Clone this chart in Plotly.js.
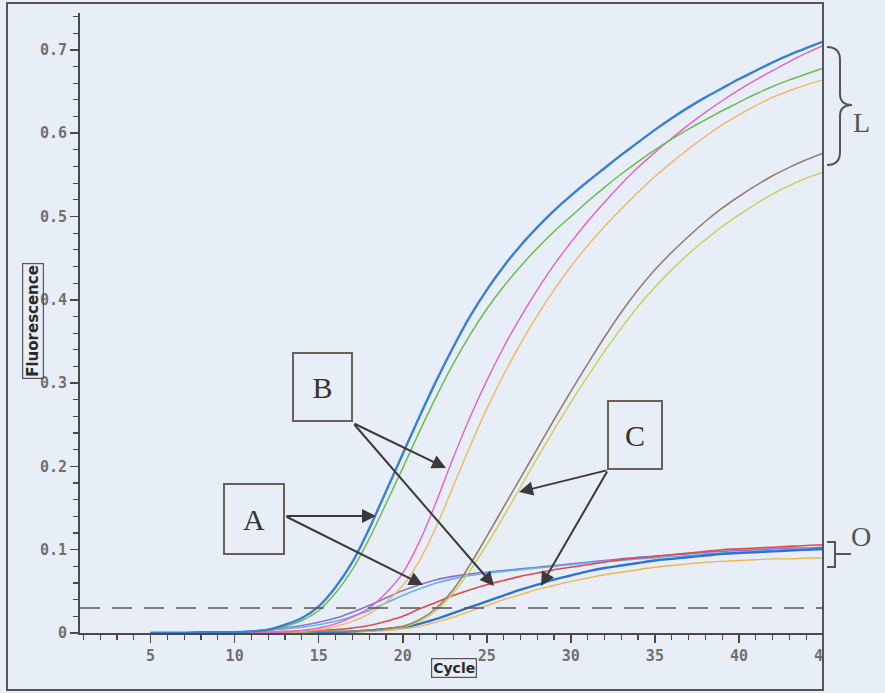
<!DOCTYPE html>
<html><head><meta charset="utf-8">
<script src="https://cdn.plot.ly/plotly-3.0.1.min.js"></script>
<style>html,body{margin:0;padding:0;background:#e8eef8;}#chart{width:885px;height:693px;}</style>
</head><body><div id="chart"></div>
<script>
// ---- data (cycle 5..45) ----
const cycles = [5,6,7,8,9,10,11,12,13,14,15,16,17,18,19,20,21,22,23,24,25,26,27,28,29,30,31,32,33,34,35,36,37,38,39,40,41,42,43,44,45];
const blueL   = [0,0,0,0.001,0.001,0.001,0.002,0.004,0.010,0.018,0.032,0.055,0.085,0.125,0.170,0.215,0.260,0.303,0.343,0.380,0.412,0.440,0.465,0.487,0.507,0.525,0.542,0.558,0.574,0.589,0.604,0.618,0.631,0.643,0.654,0.665,0.675,0.685,0.694,0.702,0.710];
const greenL  = [0,0,0,0.001,0.001,0.001,0.002,0.003,0.008,0.015,0.027,0.048,0.076,0.113,0.155,0.198,0.242,0.284,0.323,0.358,0.389,0.416,0.440,0.462,0.482,0.500,0.518,0.535,0.551,0.566,0.580,0.593,0.605,0.616,0.627,0.637,0.647,0.656,0.664,0.671,0.678];
const pinkL   = [0,0,0,0,0.001,0.001,0.001,0.001,0.001,0.003,0.006,0.011,0.019,0.030,0.048,0.072,0.110,0.158,0.210,0.259,0.303,0.343,0.379,0.412,0.442,0.469,0.494,0.517,0.539,0.559,0.577,0.594,0.610,0.625,0.639,0.652,0.664,0.675,0.686,0.696,0.705];
const orangeL = [0,0,0,0,0.001,0.001,0.001,0.001,0.001,0.002,0.004,0.008,0.014,0.023,0.037,0.057,0.087,0.128,0.176,0.224,0.269,0.310,0.347,0.381,0.412,0.440,0.465,0.488,0.509,0.529,0.548,0.565,0.581,0.596,0.610,0.622,0.633,0.643,0.651,0.658,0.664];
const brownL  = [0,0,0,0,0.001,0.001,0.001,0.001,0.001,0.002,0.002,0.002,0.002,0.003,0.005,0.008,0.016,0.030,0.052,0.082,0.116,0.151,0.186,0.221,0.256,0.290,0.323,0.355,0.385,0.412,0.436,0.457,0.476,0.494,0.510,0.524,0.537,0.549,0.559,0.568,0.576];
const yellowL = [0,0,0,0,0.001,0.001,0.001,0.001,0.001,0.001,0.002,0.002,0.002,0.002,0.004,0.007,0.014,0.027,0.048,0.075,0.106,0.140,0.175,0.210,0.244,0.277,0.308,0.338,0.366,0.392,0.415,0.436,0.455,0.472,0.488,0.502,0.515,0.527,0.537,0.546,0.553];
const purpleO = [0,0,0,0.001,0.001,0.001,0.002,0.004,0.006,0.009,0.013,0.018,0.025,0.033,0.042,0.051,0.058,0.064,0.068,0.071,0.073,0.075,0.077,0.079,0.081,0.083,0.085,0.087,0.089,0.091,0.092,0.094,0.095,0.097,0.098,0.099,0.100,0.101,0.102,0.102,0.103];
const cyanO   = [0,0,0,0.001,0.001,0.001,0.002,0.003,0.005,0.007,0.010,0.014,0.020,0.027,0.036,0.045,0.053,0.060,0.065,0.069,0.072,0.074,0.076,0.078,0.080,0.082,0.084,0.086,0.087,0.089,0.090,0.092,0.093,0.095,0.096,0.097,0.098,0.099,0.100,0.100,0.100];
const redO    = [0,0,0,0,0.001,0.001,0.001,0.001,0.002,0.002,0.003,0.004,0.006,0.009,0.014,0.020,0.029,0.037,0.045,0.052,0.058,0.063,0.068,0.072,0.076,0.079,0.082,0.085,0.088,0.090,0.092,0.094,0.096,0.098,0.100,0.101,0.102,0.103,0.104,0.105,0.106];
const blueO   = [0,0,0,0,0.001,0.001,0.001,0.001,0.001,0.001,0.001,0.001,0.002,0.003,0.005,0.007,0.011,0.017,0.024,0.031,0.038,0.045,0.052,0.058,0.064,0.069,0.074,0.078,0.081,0.084,0.087,0.089,0.091,0.093,0.095,0.096,0.097,0.098,0.099,0.100,0.101];
const orangeO = [0,0,0,0,0,0.001,0.001,0.001,0.001,0.001,0.001,0.001,0.001,0.002,0.003,0.005,0.008,0.013,0.019,0.026,0.033,0.040,0.046,0.052,0.057,0.062,0.066,0.070,0.073,0.076,0.079,0.081,0.083,0.085,0.086,0.087,0.088,0.089,0.089,0.090,0.090];
const threshold = 0.03;
const yTickVals = [0,0.1,0.2,0.3,0.4,0.5,0.6,0.7];
const yTickText = ['0','0.1','0.2','0.3','0.4','0.5','0.6','0.7'];
const xTickVals = [5,10,15,20,25,30,35,40,45];
const xTickText = ['5','10','15','20','25','30','35','40','45'];

// ---- layout geometry (pixels) ----
const W=885, H=693, PL=80, PR=823, PT=13, PB=633;
const XR=[0.8,45], YR=[0,0.7443];
const fx = p => (p-PL)/(PR-PL);
const fy = p => (PB-p)/(PB-PT);
const dx = p => XR[0] + (p-PL)/(PR-PL)*(XR[1]-XR[0]);
const dy = p => YR[0] + (PB-p)/(PB-PT)*(YR[1]-YR[0]);
function pathPx(cmds){
  return cmds.map(c=>{const l=c[0];const n=c.slice(1);const o=[];for(let i=0;i<n.length;i+=2){o.push(fx(n[i]).toFixed(5)+','+fy(n[i+1]).toFixed(5));}return l+o.join(' ');}).join(' ');
}

const series = [
  {y:purpleO,c:'#8f70d2',w:1.6},
  {y:cyanO,c:'#5fb6e6',w:1.6},
  {y:redO,c:'#e5484a',w:1.6},
  {y:orangeO,c:'#f1b450',w:1.4},
  {y:blueO,c:'#2f72d0',w:2.4},
  {y:yellowL,c:'#c9d04a',w:1.4},
  {y:brownL,c:'#9a7c6c',w:1.6},
  {y:orangeL,c:'#f1b860',w:1.4},
  {y:pinkL,c:'#e65fc9',w:1.4},
  {y:greenL,c:'#68bd4c',w:1.5},
  {y:blueL,c:'#3a7fd4',w:2.4}
];
const traces = series.map(s=>({x:cycles,y:s.y,type:'scatter',mode:'lines',line:{color:s.c,width:s.w,shape:'spline',smoothing:1},hoverinfo:'skip',showlegend:false}));

const axisCol='#4a4a4a';
const tickFont={family:'DejaVu Sans Mono',size:15,color:'#707070',weight:'bold'};
const layout = {
  width:W,height:H,
  margin:{l:PL,r:W-PR,t:PT,b:H-PB,pad:0},
  paper_bgcolor:'#e8eef8',plot_bgcolor:'#e8eef8',
  showlegend:false,
  xaxis:{range:XR,showgrid:false,zeroline:false,showline:true,linecolor:axisCol,linewidth:2,
    tickmode:'array',tickvals:xTickVals,ticktext:xTickText,ticks:'outside',ticklen:8,tickwidth:1.5,tickcolor:axisCol,
    tickfont:tickFont,minor:{dtick:1,tick0:0,ticks:'outside',ticklen:5,tickwidth:1.2,tickcolor:axisCol,showgrid:false}},
  yaxis:{range:YR,showgrid:false,zeroline:false,showline:true,linecolor:axisCol,linewidth:2,
    tickmode:'array',tickvals:yTickVals,ticktext:yTickText,ticks:'outside',ticklen:8,tickwidth:1.5,tickcolor:axisCol,
    tickfont:tickFont,minor:{dtick:0.02,tick0:0,ticks:'outside',ticklen:5,tickwidth:1.2,tickcolor:axisCol,showgrid:false}},
  shapes:[
    {type:'line',xref:'x',yref:'y',x0:XR[0],x1:XR[1],y0:threshold,y1:threshold,line:{color:'#555',width:1.6,dash:'20px,12px'},layer:'above'},
    {type:'rect',xref:'paper',yref:'paper',x0:fx(823.5),x1:fx(885),y0:fy(693),y1:fy(0),fillcolor:'#e8eef8',line:{width:0},layer:'above'},
    {type:'rect',xref:'paper',yref:'paper',x0:fx(7),x1:fx(823),y0:fy(690),y1:fy(3),line:{color:'#555',width:2},layer:'above'},
    {type:'path',xref:'paper',yref:'paper',layer:'above',line:{color:'#555',width:2},
      path:pathPx([['M',827,47],['Q',840,47,840,60],['L',840,94],['Q',840,105,852,105],['Q',840,105,840,116],['L',840,152],['Q',840,165,827,165]])},
    {type:'path',xref:'paper',yref:'paper',layer:'above',line:{color:'#555',width:2},
      path:pathPx([['M',827,542],['L',835,542],['L',835,567],['L',827,567],['M',835,554],['L',851,554]])}
  ],
  annotations:[]
};
const ann = layout.annotations;
ann.push({xref:'paper',yref:'paper',x:fx(22),y:fy(321),text:'Fluorescence',textangle:-90,showarrow:false,
  font:{family:'DejaVu Sans',size:15,color:'#2a2a2a',weight:'bold'},bordercolor:'#555',borderwidth:1.2,borderpad:1});
ann.push({xref:'paper',yref:'paper',x:fx(454),y:fy(678),text:'Cycle',showarrow:false,
  font:{family:'DejaVu Sans',size:14,color:'#2a2a2a',weight:'bold'},bordercolor:'#555',borderwidth:1.2,borderpad:1});
const boxFont={family:'Liberation Serif',size:30,color:'#333'};
[['A',223,483,285,555],['B',292,352,353,422],['C',607,400,663,470]].forEach(b=>{
  ann.push({xref:'paper',yref:'paper',x:fx((b[1]+b[3])/2),y:fy((b[2]+b[4])/2),text:b[0],showarrow:false,
    width:b[3]-b[1]-4,height:b[4]-b[2]-4,bordercolor:'#6b5f58',borderwidth:2,borderpad:0,font:boxFont,xanchor:'center',yanchor:'middle'});
});
[[285,516,376,516],[285,516,423,585],[353,423,446,468],[353,423,494,586],[608,470,519,492],[608,470,541,586]].forEach(a=>{
  ann.push({xref:'x',yref:'y',axref:'x',ayref:'y',x:dx(a[2]),y:dy(a[3]),ax:dx(a[0]),ay:dy(a[1]),text:'',showarrow:true,
    arrowhead:2,arrowsize:1.4,arrowwidth:2,arrowcolor:'#3a3a3a',standoff:0,startstandoff:0});
});
ann.push({xref:'paper',yref:'paper',x:fx(872),y:fy(105),text:'L',showarrow:false,font:{family:'Liberation Serif',size:28,color:'#555'}});
ann.push({xref:'paper',yref:'paper',x:fx(873),y:fy(554),text:'O',showarrow:false,font:{family:'Liberation Serif',size:28,color:'#555'}});

Plotly.newPlot('chart',traces,layout,{displayModeBar:false,staticPlot:true});
</script></body></html>
